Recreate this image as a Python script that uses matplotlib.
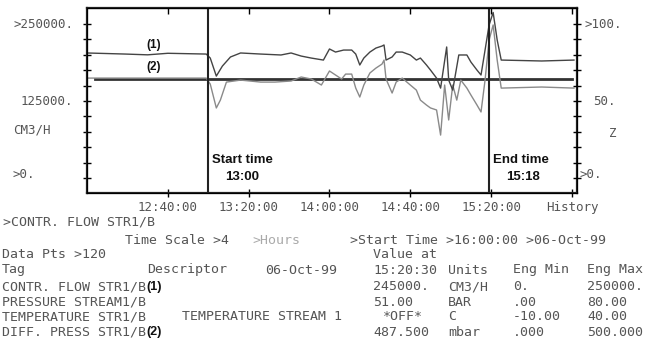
import matplotlib
matplotlib.use("Agg")
import matplotlib.pyplot as plt
from matplotlib.transforms import blended_transform_factory

# Trend data (minutes since midnight, percent of scale)
flow_t = [720, 739, 750, 760, 779, 781, 784, 787, 791, 796, 806, 816, 821, 826, 831,
          837, 840, 843, 847, 851, 853, 855, 857, 860, 863, 866, 867, 868, 871, 873,
          876, 880, 883, 885, 888, 890, 893, 895, 898, 899, 901, 904, 908, 910, 913,
          915, 917, 919, 921, 923, 925, 945, 961]
flow_v = [81.2, 80.5, 80.0, 81.0, 80.5, 77.9, 66.2, 72.7, 78.6, 81.2, 80.5, 79.9, 81.2,
          79.2, 77.9, 76.6, 83.8, 81.8, 83.1, 83.1, 80.5, 73.4, 77.9, 81.8, 84.4, 85.7,
          86.4, 76.6, 78.6, 81.8, 81.8, 79.9, 76.6, 77.9, 73.4, 70.1, 64.9, 58.4, 85.1,
          63.6, 57.1, 79.9, 79.9, 75.3, 70.1, 66.9, 83.1, 99.4, 107.5, 89.6, 76.6, 76.0,
          76.6]

dp_t = [720, 779, 781, 784, 786, 789, 796, 806, 813, 821, 826, 831, 836, 840, 843, 846,
        848, 851, 853, 855, 857, 860, 863, 866, 867, 868, 871, 873, 876, 880, 883, 885,
        888, 890, 893, 895, 897, 899, 901, 903, 905, 908, 910, 913, 915, 917, 919, 921,
        923, 925, 945, 961]
dp_v = [64.9, 64.9, 61.0, 45.5, 50.6, 62.3, 63.6, 62.3, 62.3, 63.0, 65.6, 64.3, 60.4,
        69.5, 66.9, 64.3, 67.5, 67.5, 58.4, 52.6, 60.4, 68.2, 71.4, 74.0, 76.6, 64.3,
        55.2, 62.3, 64.9, 60.4, 57.1, 50.6, 47.4, 45.5, 44.2, 27.9, 60.4, 37.7, 60.4,
        50.6, 63.6, 58.4, 53.9, 47.4, 42.9, 63.6, 89.6, 99.4, 76.6, 58.4, 59.1, 58.4]

press_t = [724, 960]
press_v = [64.5, 64.5]

start_time = 780
end_time = 919
time_ticks = [760, 800, 840, 880, 920, 960]
time_labels = ["12:40:00", "13:20:00", "14:00:00", "14:40:00", "15:20:00", "History"]

W, H = 649, 340
MONO = "DejaVu Sans Mono"
GREY = "#555555"

fig = plt.figure(figsize=(W / 100, H / 100), dpi=100)
ax = fig.add_axes([87 / W, 1 - 193 / H, 490 / W, 185 / H])

ax.plot(press_t, press_v, color="#333333", lw=2.0)
ax.plot(dp_t, dp_v, color="#8a8a8a", lw=1.0)
ax.plot(flow_t, flow_v, color="#444444", lw=1.0)
ax.axvline(start_time, color="#222222", lw=1.5)
ax.axvline(end_time, color="#222222", lw=1.5)

ax.set_xlim(720, 962.5)
ax.set_ylim(-9.7, 110.4)

for sp in ax.spines.values():
    sp.set_linewidth(1.6)
    sp.set_color("#222222")

ax.set_xticks(time_ticks)
ax.set_xticklabels(time_labels, family=MONO, fontsize=9, color=GREY)
ax.set_yticks(range(0, 101, 10))
ax.set_yticklabels([])
ax.tick_params(axis="x", direction="inout", length=6, width=1, pad=3)
ax.tick_params(axis="y", direction="inout", length=6, width=1)

top = ax.secondary_xaxis("top")
top.set_xticks(time_ticks)
top.set_xticklabels([])
top.tick_params(direction="in", length=4, width=1)

right = ax.twinx()
right.set_ylim(ax.get_ylim())
right.set_yticks(range(0, 101, 10))
right.set_yticklabels([])
right.tick_params(axis="y", direction="inout", length=6, width=1)

# axis labels, placed against the value scale
tr = blended_transform_factory(ax.transAxes, ax.transData)
mono = dict(family=MONO, fontsize=9, color=GREY, va="center", transform=tr)
ax.text(-0.028, 100, ">250000.", ha="right", **mono)
ax.text(-0.028, 50, "125000.", ha="right", **mono)
ax.text(-0.151, 31, "CM3/H", ha="left", **mono)
ax.text(-0.153, 2, ">0.", ha="left", **mono)
ax.text(1.016, 100, ">100.", ha="left", **mono)
ax.text(1.033, 50, "50.", ha="left", **mono)
ax.text(1.065, 29, "Z", ha="left", **mono)
ax.text(1.006, 2, ">0.", ha="left", **mono)

# annotations inside the plot
bold = dict(family="Liberation Sans", fontweight="bold", color="#111111")
ax.text(start_time + 2, 12, "Start time", ha="left", va="center", fontsize=9.5, **bold)
ax.text(start_time + 17, 1, "13:00", ha="center", va="center", fontsize=9.5, **bold)
ax.text(end_time + 2, 12, "End time", ha="left", va="center", fontsize=9.5, **bold)
ax.text(end_time + 17, 1, "15:18", ha="center", va="center", fontsize=9.5, **bold)
ax.text(753, 86.5, "(1)", ha="center", va="center", fontsize=8.5, **bold)
ax.text(753, 72, "(2)", ha="center", va="center", fontsize=8.5, **bold)


def put(x, y, s, **kw):
    opts = dict(family=MONO, fontsize=9.5, color=GREY, va="center", ha="left")
    opts.update(kw)
    fig.text(x / W, 1 - y / H, s, **opts)


put(3, 222, ">CONTR. FLOW STR1/B")
put(125, 240, "Time Scale >4")
put(252, 240, ">Hours", color="#aaaaaa")
put(350, 240, ">Start Time >16:00:00 >06-Oct-99")
put(2, 255, "Data Pts >120")
put(373, 255, "Value at")

header = ["15:20:30", "Units", "Eng Min", "Eng Max"]
tags = ["CONTR. FLOW STR1/B", "PRESSURE STREAM1/B",
        "TEMPERATURE STR1/B", "DIFF. PRESS STR1/B"]
values = ["245000.", "51.00", "*OFF*", "487.500"]
units = ["CM3/H", "BAR", "C", "mbar"]
eng_min = ["0.", ".00", "-10.00", ".000"]
eng_max = ["250000.", "80.00", "40.00", "500.000"]

put(2, 270, "Tag")
put(147, 270, "Descriptor")
put(265, 270, "06-Oct-99")
for x, s in zip([373, 448, 513, 587], header):
    put(x, 270, s)

for i, y in enumerate([287, 302, 317, 332]):
    put(2, y, tags[i])
    put(383 if values[i] == "*OFF*" else 373, y, values[i])
    put(448, y, units[i])
    put(513, y, eng_min[i])
    put(587, y, eng_max[i])
put(182, 317, "TEMPERATURE STREAM 1")

put(146, 287, "(1)", family="Liberation Sans", fontweight="bold", color="#111111", fontsize=9)
put(146, 332, "(2)", family="Liberation Sans", fontweight="bold", color="#111111", fontsize=9)

fig.savefig("out.png", dpi=100)
